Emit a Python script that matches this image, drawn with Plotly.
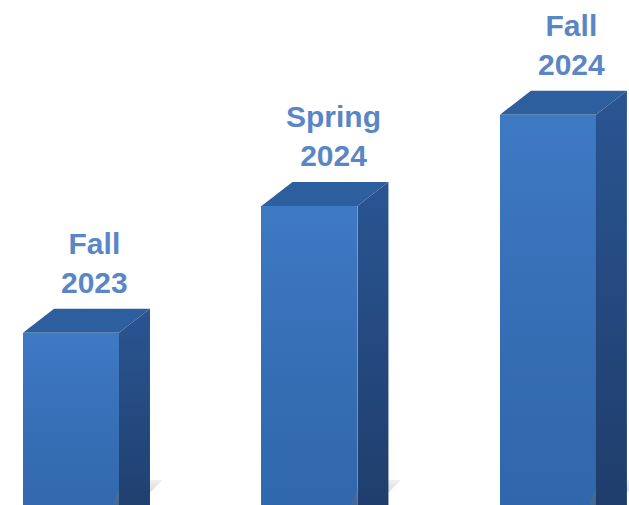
import plotly.graph_objects as go

categories = ["Fall<br>2023", "Spring<br>2024", "Fall<br>2024"]
values = [45, 70, 88]

# style constants
W = 0.4025      # front face width (category units)
DX = 0.13       # depth offset x
DY = 4.73       # depth offset y
BASE = 0

xs = list(range(len(values)))
fig = go.Figure()

# soft shadows at the foot of each bar
for i, v in zip(xs, values):
    x_r = i + W / 2
    fig.add_trace(go.Scatter(
        x=[x_r + DX * 0.1, x_r + DX * 1.4, x_r + DX * 0.6, x_r - DX * 0.2],
        y=[16.0, 16.0, 11.0, 11.0],
        fill="toself", mode="lines", line=dict(width=0),
        fillgradient=dict(type="vertical",
                          colorscale=[[0, "rgba(110,110,110,0.45)"], [1, "rgba(150,150,150,0.15)"]]),
        hoverinfo="skip", showlegend=False))

# front faces as bars
fig.add_trace(go.Bar(
    x=xs, y=values, width=W, base=BASE,
    marker=dict(color="#3570b8", line=dict(width=0)),
    hoverinfo="skip", showlegend=False))

for i, v in zip(xs, values):
    xl, xr = i - W / 2, i + W / 2
    # gradient overlay on front face
    fig.add_trace(go.Scatter(
        x=[xl, xr, xr, xl, xl], y=[BASE, BASE, v, v, BASE],
        fill="toself", mode="lines", line=dict(width=0),
        fillgradient=dict(type="vertical",
                          colorscale=[[0, "rgba(20,50,100,0.18)"], [1, "rgba(90,150,230,0.25)"]]),
        hoverinfo="skip", showlegend=False))
    # side face
    fig.add_trace(go.Scatter(
        x=[xr, xr, xr + DX, xr + DX, xr], y=[BASE, v, v + DY, BASE + DY, BASE],
        fill="toself", mode="lines", line=dict(width=0),
        fillgradient=dict(type="vertical",
                          colorscale=[[0, "#1d3a66"], [1, "#2a5592"]]),
        hoverinfo="skip", showlegend=False))
    # top face
    fig.add_trace(go.Scatter(
        x=[xl, xr, xr + DX, xl + DX, xl], y=[v, v, v + DY, v + DY, v],
        fill="toself", mode="lines", line=dict(width=0),
        fillcolor="#2d5e9e", hoverinfo="skip", showlegend=False))
    # label
    fig.add_annotation(
        x=i + 0.1, y=v + DY, text=categories[i], showarrow=False,
        xanchor="center", yanchor="bottom", yshift=8,
        font=dict(family="Liberation Sans, Arial", size=30, color="#5a86c6", weight="bold"))

fig.update_layout(
    width=629, height=505,
    margin=dict(l=0, r=0, t=0, b=0),
    paper_bgcolor="white", plot_bgcolor="white",
    xaxis=dict(range=[-0.2977, 2.34], visible=False, fixedrange=True),
    yaxis=dict(range=[11.05, 110.6], visible=False, fixedrange=True),
    bargap=0, showlegend=False,
)

fig.write_html(
    "out.html",
    config={"displayModeBar": False, "staticPlot": True},
    post_script="document.body.style.margin='0';document.body.style.overflow='hidden';",
)
